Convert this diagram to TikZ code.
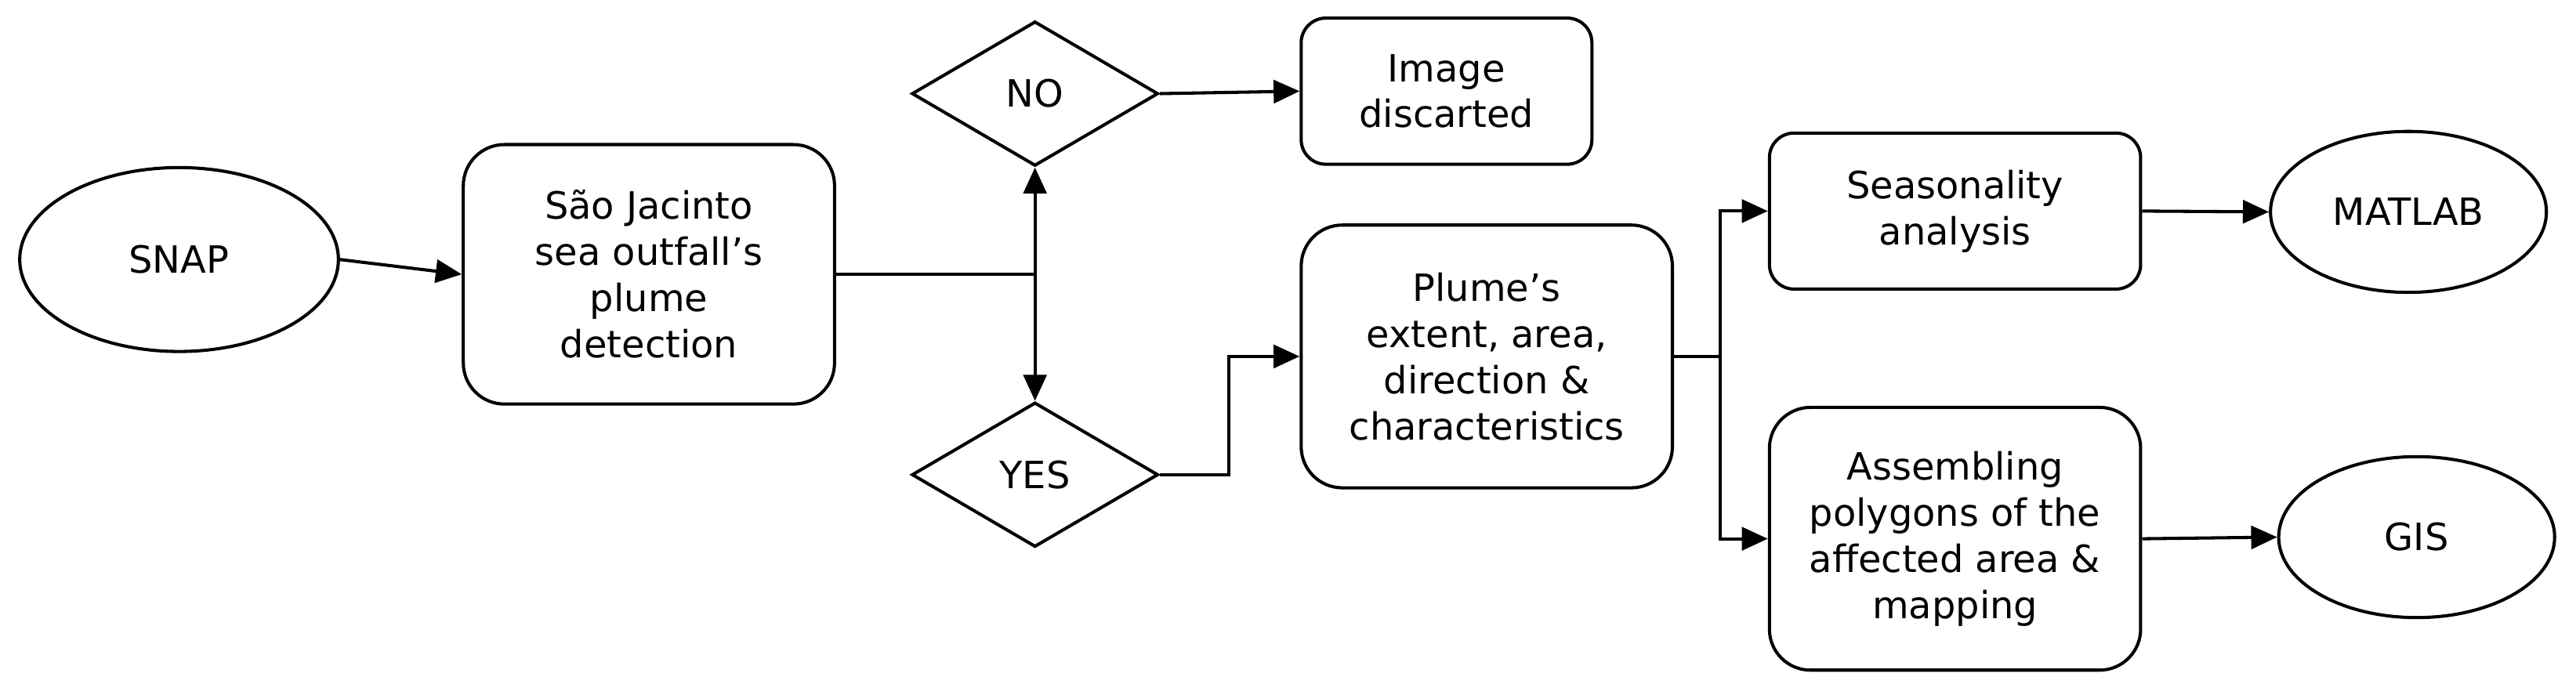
\documentclass[tikz,border=0pt]{standalone}
\usepackage{fontspec}
\setmainfont{DejaVu Sans}
\usetikzlibrary{shapes.geometric,arrows.meta}
\begin{document}
\begin{tikzpicture}[x=0.02cm,y=-0.02cm,
  every node/.style={font=\fontsize{13}{16}\selectfont,align=center,line width=1.1pt,draw,inner sep=0pt},
  box/.style={rectangle,rounded corners=0.5cm},
  ell/.style={ellipse},
  dia/.style={diamond,aspect=1.7},
  arr/.style={line width=1.1pt,-{Triangle[length=9pt,width=8pt]}},
  ln/.style={line width=1.1pt}]
\useasboundingbox (0,0) rectangle (1568,423);
\node[ell,minimum width=194\pgflinewidth*0+3.88cm,minimum height=2.24cm] (snap) at (109,158) {SNAP};
\node[box,minimum width=4.52cm,minimum height=3.16cm] (det) at (395,167) {São Jacinto\\sea outfall’s\\plume\\detection};
\node[dia,minimum width=3cm,minimum height=1.76cm] (no) at (630,57) {NO};
\node[dia,minimum width=3cm,minimum height=1.76cm] (yes) at (630,289) {YES};
\node[box,rounded corners=0.3cm,minimum width=3.54cm,minimum height=1.78cm] (disc) at (880.5,55.5) {Image\\discarted};
\node[box,minimum width=4.52cm,minimum height=3.2cm] (plume) at (905,217) {Plume’s\\extent, area,\\direction \&\\characteristics};
\node[box,rounded corners=0.3cm,minimum width=4.52cm,minimum height=1.9cm] (seas) at (1190,128.5) {Seasonality\\analysis};
\node[box,minimum width=4.52cm,minimum height=3.2cm] (asm) at (1190,328) {Assembling\\polygons of the\\affected area \&\\mapping};
\node[ell,minimum width=3.36cm,minimum height=1.96cm] (matlab) at (1466,129) {MATLAB};
\node[ell,minimum width=3.36cm,minimum height=1.96cm] (gis) at (1471,327) {GIS};
\coordinate (j) at (630,167);
\draw[arr] (snap.east) -- (det.west);
\draw[ln] (det.east) -- (j);
\draw[arr] (j) -- (no.south);
\draw[arr] (j) -- (yes.north);
\draw[arr] (no.east) -- (disc.west);
\draw[arr] (yes.east) -- (748,289) |- (plume.west);
\coordinate (k) at (1047,217);
\draw[ln] (plume.east) -- (k);
\draw[arr] (k) |- (seas.west);
\draw[arr] (k) |- (asm.west);
\draw[arr] (seas.east) -- (matlab.west);
\draw[arr] (asm.east) -- (gis.west);
\end{tikzpicture}
\end{document}
